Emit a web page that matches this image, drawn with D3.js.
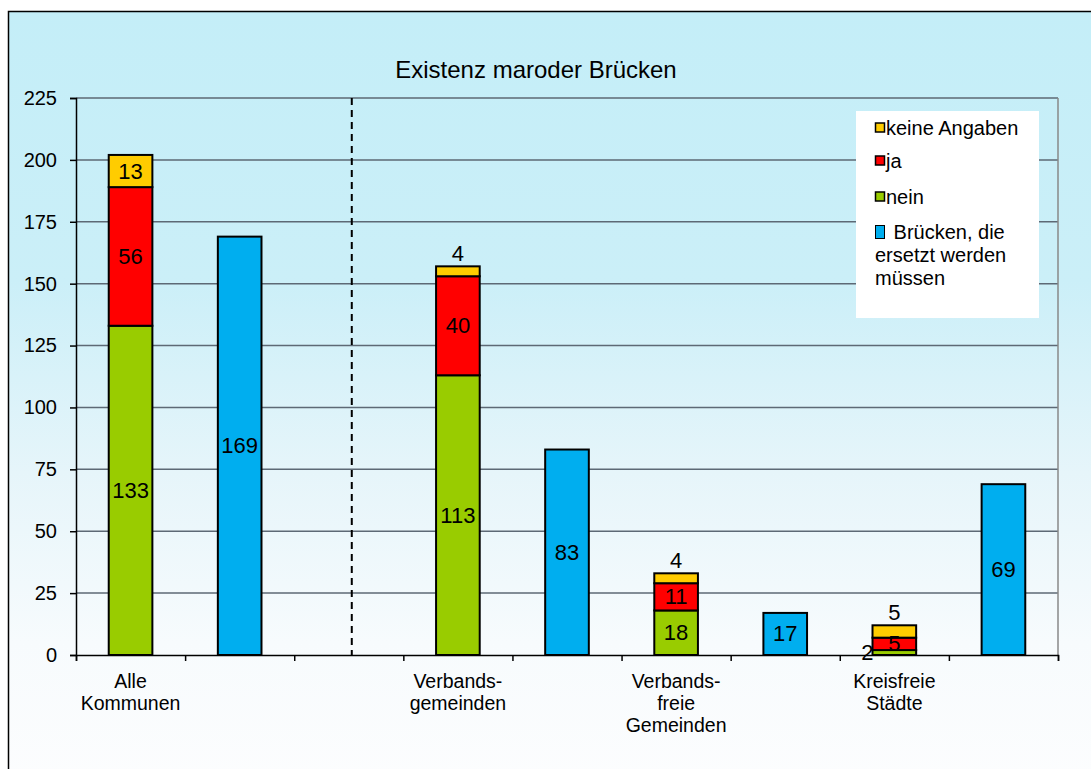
<!DOCTYPE html>
<html>
<head>
<meta charset="utf-8">
<script src="https://cdn.jsdelivr.net/npm/d3@7"></script>
<style>
  body { margin: 0; background: #fff; }
  text { font-family: Arial, "Liberation Sans", sans-serif; fill: #000; }
</style>
</head>
<body>
<svg id="chart" width="1091" height="769"></svg>
<script>
// chart data
const title = "Existenz maroder Brücken";
const groups = [["Alle", "Kommunen"], ["Verbands-", "gemeinden"], ["Verbands-", "freie", "Gemeinden"], ["Kreisfreie", "Städte"]];
const nein = [133, 113, 18, 2];
const ja = [56, 40, 11, 5];
const keineAngaben = [13, 4, 4, 5];
const bruecken = [169, 83, 17, 69];
const yTicks = [0, 25, 50, 75, 100, 125, 150, 175, 200, 225];
const legendLabels = ["keine Angaben", "ja", "nein", " Brücken, die|ersetzt werden|müssen"];

const colors = { nein: "#99cc00", ja: "#ff0000", keine: "#ffcc00", bruecken: "#00aeef" };

const svg = d3.select("#chart");
const W = 1091, H = 769;
const plotL = 76, plotR = 1058, plotT = 98, plotB = 655;

// background gradient
const defs = svg.append("defs");
const grad = defs.append("linearGradient").attr("id", "bg").attr("x1", 0).attr("y1", 0).attr("x2", 0).attr("y2", 1);
[[0, "#c4eef8"], [0.35, "#cbeff8"], [0.6, "#e6f5fa"], [0.82, "#f7fbfd"], [1, "#fcfdfe"]].forEach(s =>
  grad.append("stop").attr("offset", s[0]).attr("stop-color", s[1]));

svg.append("rect").attr("x", 8.5).attr("y", 11.5).attr("width", W).attr("height", H)
  .attr("fill", "url(#bg)").attr("stroke", "#000").attr("stroke-width", 1.5);

// slots: stacked bar, blue bar, (divider after first group)
const slots = [];
groups.forEach((g, i) => {
  slots.push("s" + i);
  slots.push("b" + i);
  if (i === 0) slots.push("divider");
});

const x = d3.scaleBand().domain(slots).range([plotL, plotR]).paddingInner(0.6).paddingOuter(0.3);
const xb = d3.scaleLinear().domain([0, slots.length]).range([plotL, plotR]);
const y = d3.scaleLinear().domain([0, 225]).range([plotB, plotT]);
const bw = x.bandwidth();

// gridlines
svg.append("g").selectAll("line").data(yTicks.filter(d => d > 0)).join("line")
  .attr("x1", plotL).attr("x2", plotR)
  .attr("y1", d => y(d)).attr("y2", d => y(d))
  .attr("stroke", "#5d6975").attr("stroke-width", 1.5);

// right border of plot
svg.append("line").attr("x1", plotR).attr("x2", plotR).attr("y1", plotT).attr("y2", plotB)
  .attr("stroke", "#888").attr("stroke-width", 1.5);

// divider dashed line
const dx = x("divider") + bw / 2 + 3;
svg.append("line").attr("x1", dx).attr("x2", dx).attr("y1", plotT).attr("y2", plotB)
  .attr("stroke", "#000").attr("stroke-width", 2).attr("stroke-dasharray", "7,5");

// y axis
const yAxis = svg.append("g").attr("transform", `translate(${plotL},0)`)
  .call(d3.axisLeft(y).tickValues(yTicks).tickSize(6).tickPadding(13));
yAxis.select(".domain").attr("stroke", "#000").attr("stroke-width", 1.5);
yAxis.selectAll(".tick line").attr("stroke", "#000").attr("stroke-width", 1.5);
yAxis.selectAll(".tick text").attr("font-size", 20).attr("font-family", "Arial, 'Liberation Sans', sans-serif").attr("fill", "#000");

// x axis (ticks at slot boundaries)
const xAxis = svg.append("g").attr("transform", `translate(0,${plotB})`)
  .call(d3.axisBottom(xb).tickValues(d3.range(slots.length + 1)).tickFormat("").tickSize(6));
xAxis.select(".domain").attr("stroke", "#000").attr("stroke-width", 1.5);
xAxis.selectAll(".tick line").attr("stroke", "#000").attr("stroke-width", 1.5);

// stacked bars
const stackData = groups.map((g, i) => ({ key: "s" + i, nein: nein[i], ja: ja[i], keine: keineAngaben[i] }));
const stack = d3.stack().keys(["nein", "ja", "keine"])(stackData);

const barG = svg.append("g");
stack.forEach(layer => {
  barG.selectAll(null).data(layer).join("rect")
    .attr("x", d => x(d.data.key))
    .attr("y", d => y(d[1]))
    .attr("width", bw)
    .attr("height", d => y(d[0]) - y(d[1]))
    .attr("fill", colors[layer.key])
    .attr("stroke", "#000").attr("stroke-width", 2);
});

// blue bars
barG.selectAll(null).data(bruecken).join("rect")
  .attr("x", (d, i) => x("b" + i))
  .attr("y", d => y(d))
  .attr("width", bw)
  .attr("height", d => plotB - y(d))
  .attr("fill", colors.bruecken)
  .attr("stroke", "#000").attr("stroke-width", 2);

// value labels
const lab = svg.append("g").attr("font-size", 22);
stack.forEach(layer => {
  layer.forEach(d => {
    const v = d[1] - d[0];
    const h = y(d[0]) - y(d[1]);
    let tx = x(d.data.key) + bw / 2, ty = (y(d[0]) + y(d[1])) / 2, anchor = "middle";
    if (h < 14 && layer.key === "keine") ty = y(d[1]) - 13;
    if (h < 10 && layer.key === "nein") { tx = x(d.data.key) + 1; anchor = "end"; }
    lab.append("text").attr("x", tx).attr("y", ty).attr("text-anchor", anchor)
      .attr("dominant-baseline", "central").text(v);
  });
});
bruecken.forEach((v, i) => {
  lab.append("text").attr("x", x("b" + i) + bw / 2).attr("y", (y(v) + plotB) / 2)
    .attr("text-anchor", "middle").attr("dominant-baseline", "central").text(v);
});

// category labels
groups.forEach((g, i) => {
  const t = svg.append("text").attr("text-anchor", "middle").attr("font-size", 19.5)
    .attr("x", x("s" + i) + bw / 2).attr("y", 688);
  g.forEach((line, j) => t.append("tspan").attr("x", x("s" + i) + bw / 2).attr("dy", j === 0 ? 0 : 22).text(line));
});

// title
svg.append("text").attr("x", 536).attr("y", 78).attr("text-anchor", "middle").attr("font-size", 24).text(title);

// legend
const lg = svg.append("g");
lg.append("rect").attr("x", 856).attr("y", 111).attr("width", 183).attr("height", 207).attr("fill", "#fff");
const legendColors = [colors.keine, colors.ja, colors.nein, colors.bruecken];
const legendRows = [128, 161, 197, 0];
legendLabels.forEach((l, i) => {
  if (i < 3) {
    lg.append("rect").attr("x", 875.5).attr("y", legendRows[i] - 5).attr("width", 9).attr("height", 9)
      .attr("fill", legendColors[i]).attr("stroke", "#000").attr("stroke-width", 1.5);
    lg.append("text").attr("x", 886).attr("y", legendRows[i] + 7).attr("font-size", 20).text(l);
  } else {
    lg.append("rect").attr("x", 875.5).attr("y", 225.5).attr("width", 9).attr("height", 13)
      .attr("fill", legendColors[i]).attr("stroke", "#000").attr("stroke-width", 1);
    const lines = l.split("|");
    lg.append("text").attr("x", 888).attr("y", 239).attr("font-size", 20).attr("xml:space", "preserve").text(lines[0]);
    lines.slice(1).forEach((ln, j) =>
      lg.append("text").attr("x", 875).attr("y", 262 + j * 23).attr("font-size", 20).text(ln));
  }
});
</script>
</body>
</html>
